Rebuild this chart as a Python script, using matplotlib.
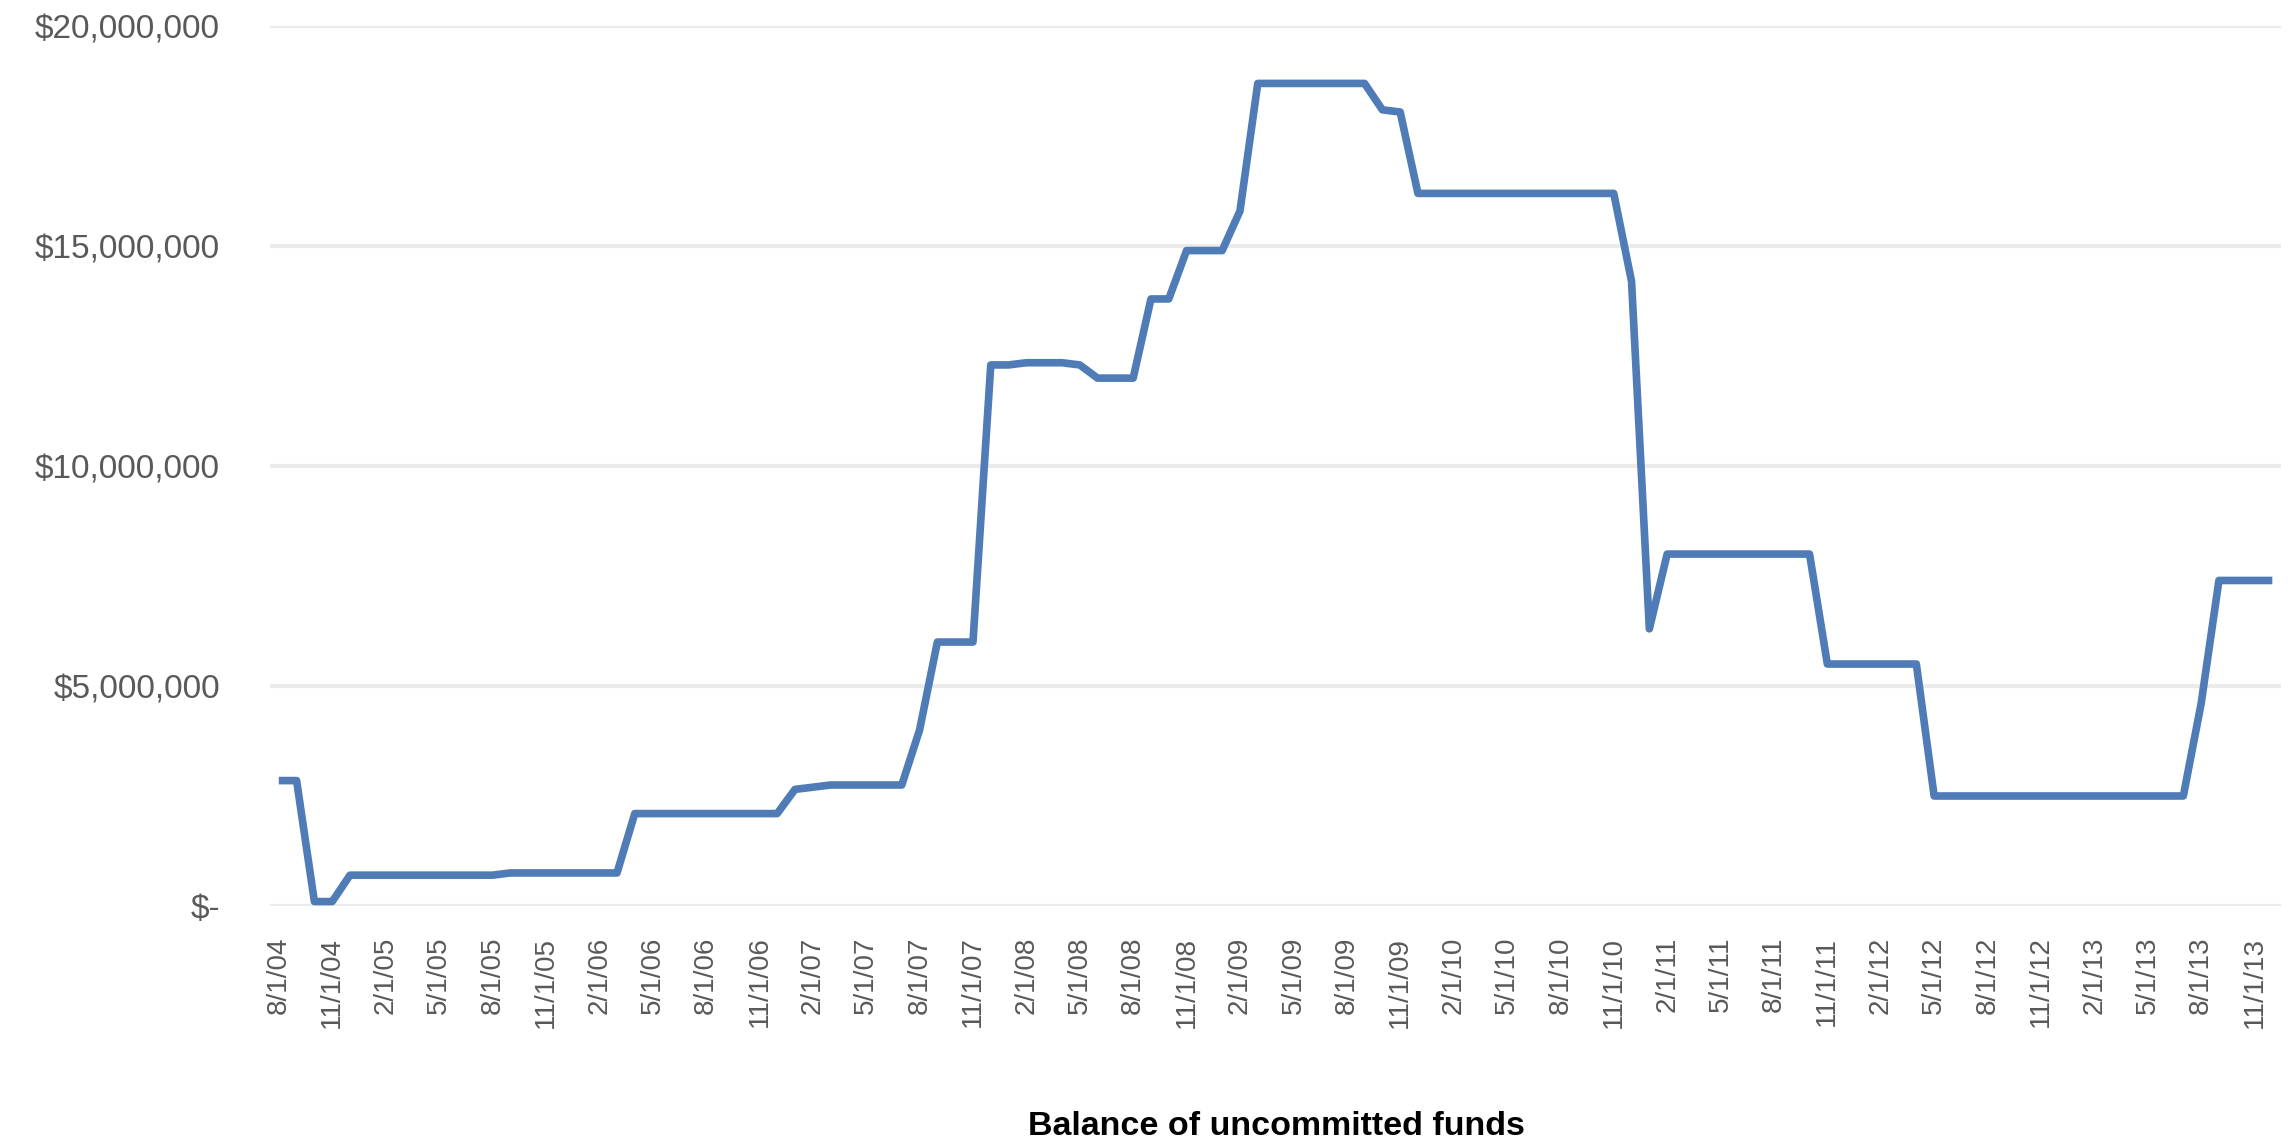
import matplotlib
matplotlib.use("Agg")
import matplotlib.pyplot as plt
from matplotlib.ticker import FuncFormatter

plt.rcParams['font.family'] = ['Liberation Sans', 'DejaVu Sans']

# month labels, 8/1/04 .. 12/1/13 (monthly)
months = []
for yr in range(4, 14):
    for mo in range(1, 13):
        if (yr == 4 and mo < 8):
            continue
        months.append(f"{mo}/1/{yr:02d}")

# balance in $ millions, one value per month
balance_m = [
    2.85, 2.85, 0.1, 0.1, 0.7,                         # 8/04 - 12/04
    0.7, 0.7, 0.7, 0.7, 0.7, 0.7, 0.7, 0.7,            # 1/05 - 8/05
    0.75, 0.75, 0.75, 0.75,                            # 9/05 - 12/05
    0.75, 0.75, 0.75, 2.1, 2.1, 2.1, 2.1, 2.1,         # 1/06 - 8/06
    2.1, 2.1, 2.1, 2.1,                                # 9/06 - 12/06
    2.65, 2.7, 2.75, 2.75, 2.75, 2.75, 2.75, 4.0,      # 1/07 - 8/07
    6.0, 6.0, 6.0, 12.3,                               # 9/07 - 12/07
    12.3, 12.35, 12.35, 12.35, 12.3, 12.0, 12.0, 12.0, # 1/08 - 8/08
    13.8, 13.8, 14.9, 14.9,                            # 9/08 - 12/08
    14.9, 15.8, 18.7, 18.7, 18.7, 18.7, 18.7, 18.7,    # 1/09 - 8/09
    18.7, 18.1, 18.05, 16.2,                           # 9/09 - 12/09
    16.2, 16.2, 16.2, 16.2, 16.2, 16.2, 16.2, 16.2,    # 1/10 - 8/10
    16.2, 16.2, 16.2, 14.2,                            # 9/10 - 12/10
    6.3, 8.0, 8.0, 8.0, 8.0, 8.0, 8.0, 8.0,            # 1/11 - 8/11
    8.0, 8.0, 5.5, 5.5,                                # 9/11 - 12/11
    5.5, 5.5, 5.5, 5.5, 2.5, 2.5, 2.5, 2.5,            # 1/12 - 8/12
    2.5, 2.5, 2.5, 2.5,                                # 9/12 - 12/12
    2.5, 2.5, 2.5, 2.5, 2.5, 2.5, 2.5, 4.6,            # 1/13 - 8/13
    7.4, 7.4, 7.4, 7.4,                                # 9/13 - 12/13
]
balance = [v * 1e6 for v in balance_m]

fig = plt.figure(figsize=(22.95, 11.41), dpi=100)
ax = fig.add_axes([0.1176, 0.206, 0.8764, 0.771])

x = list(range(len(balance)))
ax.plot(x, balance, color='#4f7cb6', linewidth=5.5, solid_joinstyle='round',
        solid_capstyle='butt', zorder=3)

ax.set_xlim(-0.5, len(balance) - 0.5)
ax.set_ylim(0, 20e6)
ax.set_yticks([0, 5e6, 10e6, 15e6, 20e6])
ax.yaxis.set_major_formatter(FuncFormatter(lambda v, p: "$-" if v == 0 else f"${v:,.0f}"))

ax.set_xticks(x[::3])
ax.set_xticklabels(months[::3], rotation=90)

ax.grid(axis='y', color='#ebebeb', linewidth=3, zorder=0)
ax.set_axisbelow(True)
for s in ax.spines.values():
    s.set_visible(False)
ax.tick_params(axis='both', length=0, colors='#595959')
ax.tick_params(axis='y', labelsize=24, pad=36)
ax.tick_params(axis='x', labelsize=20, pad=22)

fig.text(0.556, 0.013, "Balance of uncommitted funds", ha='center', va='center',
         fontsize=24.5, fontweight='bold', color='black')

fig.savefig("out.png", dpi=100)
